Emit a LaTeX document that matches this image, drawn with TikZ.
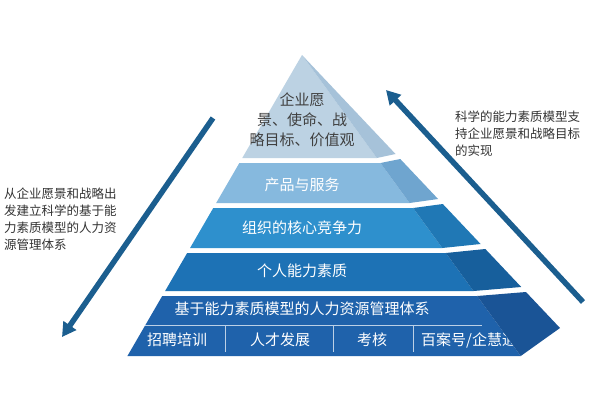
\documentclass[tikz,border=0pt]{standalone}
\usepackage{fontspec}
\setmainfont{Noto Sans CJK SC}
\usetikzlibrary{calc}
\usetikzlibrary{arrows.meta}
\tikzset{
 layer/.style={draw=none},
 lbl/.style={text=white, font=\fontsize{15}{17}\selectfont, inner sep=1pt},
 note/.style={text=black!80, font=\fontsize{12.5}{17}\selectfont, align=left, inner sep=0pt, anchor=north west},
 bigarrow/.style={draw=arrowblue, line width=5.5pt, -{Triangle[length=14pt,width=15pt]}}
}
\definecolor{arrowblue}{HTML}{1B5E8F}
\definecolor{lone}{HTML}{BCD2E3}\definecolor{sone}{HTML}{A6C2D9}
\definecolor{ltwo}{HTML}{86B9DE}\definecolor{stwo}{HTML}{6FA5CF}
\definecolor{lthree}{HTML}{2E90CD}\definecolor{sthree}{HTML}{2078B5}
\definecolor{lfour}{HTML}{1D72B5}\definecolor{sfour}{HTML}{175F9C}
\definecolor{lfive}{HTML}{1F62AB}\definecolor{sfive}{HTML}{1A5496}
% front edges and back edge as functions of y (pixels)
\newcommand{\fl}[1]{302-0.58*(#1-55)}
\newcommand{\fr}[1]{302+0.7267*(#1-55)}
\newcommand{\bk}[1]{302+0.945*(#1-55)}
\begin{document}
\begin{tikzpicture}[x=1pt, y=-1pt]
\useasboundingbox (0,0) rectangle (600,400);
\fill[white] (0,0) rectangle (600,400);

% layers: top, bottom, front colour, side colour
\foreach \yt/\yb/\cf/\cs in {163/203/ltwo/stwo, 208/248/lthree/sthree, 253/291/lfour/sfour}{
 \fill[\cf] ({\fl{\yt}},\yt) -- ({\fr{\yt}},\yt) -- ({\fr{\yb}},\yb) -- ({\fl{\yb}},\yb) -- cycle;
 \fill[\cs] ({\fr{\yt}},\yt) -- ({\bk{\yt-4}},\yt-4) -- ({\bk{\yb-4}},\yb-4) -- ({\fr{\yb}},\yb) -- cycle;
}
\fill[lone] (302,55) -- ({\fr{158}},158) -- ({\fl{158}},158) -- cycle;
\fill[sone] (302,55) -- ({\bk{154}},154) -- ({\fr{158}},158) -- cycle;
\fill[lfive] ({\fl{296}},296) -- ({\fr{296}},296) -- ({\fr{356}},356) -- ({\fl{356}},356) -- cycle;

% labels
\node[lbl, text=black!75, align=center, font=\fontsize{15}{20}\selectfont] (vision) at (302,120) {企业愿\\景、使命、战\\略目标、价值观};
\node[lbl] (product) at (302,185) {产品与服务};
\node[lbl] (core) at (302,228) {组织的核心竞争力};
\node[lbl] (person) at (302,271) {个人能力素质};
\node[lbl] (system) at (302,309) {基于能力素质模型的人力资源管理体系};
\draw[white!70!lfive, line width=0.8pt] ({\fl{325}},325) -- (482,325);
\foreach \x in {225,333,413}
 \draw[white!70!lfive, line width=0.8pt] (\x,325) -- (\x,352);
\node[lbl] (recruit) at (177,340) {招聘培训};
\node[lbl] (develop) at (280,340) {人才发展};
\node[lbl] (assess) at (372,340) {考核};
\node[lbl, anchor=west] (train) at (420,340) {百案号/企慧通培训};
\fill[sfive] ({\fr{296}},296) -- ({\bk{292}},292) -- (560,328) -- ({\fr{356}},356) -- cycle;

% notes and arrows
\node[note] (left) at (4,188) {从企业愿景和战略出\\发建立科学的基于能\\力素质模型的人力资\\源管理体系};
\node[note] (right) at (455,111) {科学的能力素质模型支\\持企业愿景和战略目标\\的实现};
\coordinate (ltop) at (213,118);
\coordinate (lbot) at (62,337);
\coordinate (rbot) at (583,302);
\coordinate (rtop) at (386,90);
\draw[bigarrow] (ltop) -- (lbot);
\draw[bigarrow] (rbot) -- (rtop);
\end{tikzpicture}
\end{document}
